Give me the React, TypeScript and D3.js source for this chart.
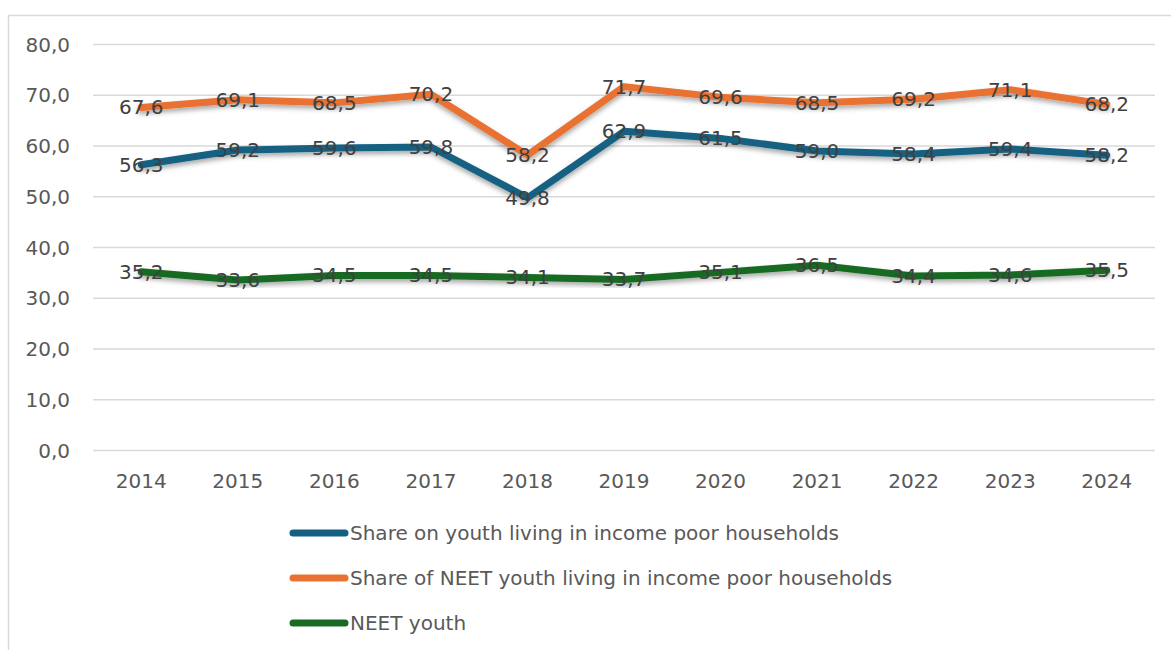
import React, { useRef, useEffect } from "react";
import * as d3 from "d3";

const years = ["2014", "2015", "2016", "2017", "2018", "2019", "2020", "2021", "2022", "2023", "2024"];
const youthPoor = [56.3, 59.2, 59.6, 59.8, 49.8, 62.9, 61.5, 59.0, 58.4, 59.4, 58.2];
const neetPoor = [67.6, 69.1, 68.5, 70.2, 58.2, 71.7, 69.6, 68.5, 69.2, 71.1, 68.2];
const neetYouth = [35.2, 33.6, 34.5, 34.5, 34.1, 33.7, 35.1, 36.5, 34.4, 34.6, 35.5];
const yTicks = [0, 10, 20, 30, 40, 50, 60, 70, 80];
const seriesNames = [
  "Share on youth living in income poor households",
  "Share of NEET youth living in income poor households",
  "NEET youth",
];

const fmt = (v: number) => v.toFixed(1).replace(".", ",");

const App: React.FC = () => {
  const ref = useRef<SVGSVGElement | null>(null);

  useEffect(() => {
    if (!ref.current) return;
    const root = d3.select(ref.current);
    root.selectAll("*").remove();

    const width = 1171;
    const height = 650;
    const font = "'DejaVu Sans', sans-serif";
    const fs = "20px";

    const series = [
      { name: seriesNames[0], values: youthPoor, color: "#156082" },
      { name: seriesNames[1], values: neetPoor, color: "#E97132" },
      { name: seriesNames[2], values: neetYouth, color: "#196B24" },
    ];

    root.attr("width", width).attr("height", height);

    // drop shadow like Excel
    const defs = root.append("defs");
    const f = defs
      .append("filter")
      .attr("id", "shadow")
      .attr("x", "-10%")
      .attr("y", "-50%")
      .attr("width", "120%")
      .attr("height", "200%");
    f.append("feDropShadow")
      .attr("dx", 0)
      .attr("dy", 3)
      .attr("stdDeviation", 2.5)
      .attr("flood-color", "#000")
      .attr("flood-opacity", 0.35);

    // outer border of chart area (cut off right/bottom)
    root
      .append("rect")
      .attr("x", 8.5)
      .attr("y", 15.5)
      .attr("width", 1200)
      .attr("height", 700)
      .attr("fill", "white")
      .attr("stroke", "#d9d9d9")
      .attr("stroke-width", 1.5);

    const x = d3.scaleBand().domain(years).range([93, 1155]);
    const y = d3.scaleLinear().domain([0, 80]).range([450.5, 44.5]);
    const cx = (d: string) => x(d)! + x.bandwidth() / 2;

    // gridlines
    root
      .append("g")
      .selectAll("line")
      .data(yTicks)
      .enter()
      .append("line")
      .attr("x1", 93)
      .attr("x2", 1155)
      .attr("y1", (d) => y(d))
      .attr("y2", (d) => y(d))
      .attr("stroke", "#d9d9d9")
      .attr("stroke-width", 1.5);

    // y tick labels
    root
      .append("g")
      .selectAll("text")
      .data(yTicks)
      .enter()
      .append("text")
      .attr("x", 70)
      .attr("y", (d) => y(d))
      .attr("dy", "0.35em")
      .attr("text-anchor", "end")
      .style("font-family", font)
      .style("font-size", fs)
      .style("fill", "#595959")
      .text((d) => fmt(d));

    // x tick labels
    root
      .append("g")
      .selectAll("text")
      .data(years)
      .enter()
      .append("text")
      .attr("x", (d) => cx(d))
      .attr("y", 481)
      .attr("dy", "0.35em")
      .attr("text-anchor", "middle")
      .style("font-family", font)
      .style("font-size", fs)
      .style("fill", "#595959")
      .text((d) => d);

    const line = d3
      .line<number>()
      .x((_, i) => cx(years[i]))
      .y((d) => y(d));

    // lines
    series.forEach((s) => {
      root
        .append("path")
        .datum(s.values)
        .attr("d", line)
        .attr("fill", "none")
        .attr("stroke", s.color)
        .attr("stroke-width", 7)
        .attr("stroke-linejoin", "round")
        .attr("stroke-linecap", "round")
        .attr("filter", "url(#shadow)");
    });

    // data labels
    series.forEach((s) => {
      root
        .append("g")
        .selectAll("text")
        .data(s.values)
        .enter()
        .append("text")
        .attr("x", (_, i) => cx(years[i]))
        .attr("y", (d) => y(d))
        .attr("dy", "0.35em")
        .attr("text-anchor", "middle")
        .style("font-family", font)
        .style("font-size", fs)
        .style("fill", "#404040")
        .text((d) => fmt(d));
    });

    // legend
    const legend = root.append("g");
    series.forEach((s, i) => {
      const ly = 533 + i * 45;
      legend
        .append("line")
        .attr("x1", 293)
        .attr("x2", 345)
        .attr("y1", ly)
        .attr("y2", ly)
        .attr("stroke", s.color)
        .attr("stroke-width", 7)
        .attr("stroke-linecap", "round");
      legend
        .append("text")
        .attr("x", 350)
        .attr("y", ly)
        .attr("dy", "0.35em")
        .style("font-family", font)
        .style("font-size", fs)
        .style("fill", "#595959")
        .text(s.name);
    });
  }, []);

  return (
    <svg
      ref={ref}
      style={{ position: "absolute", left: 0, top: 0, display: "block" }}
    ></svg>
  );
};

export default App;
